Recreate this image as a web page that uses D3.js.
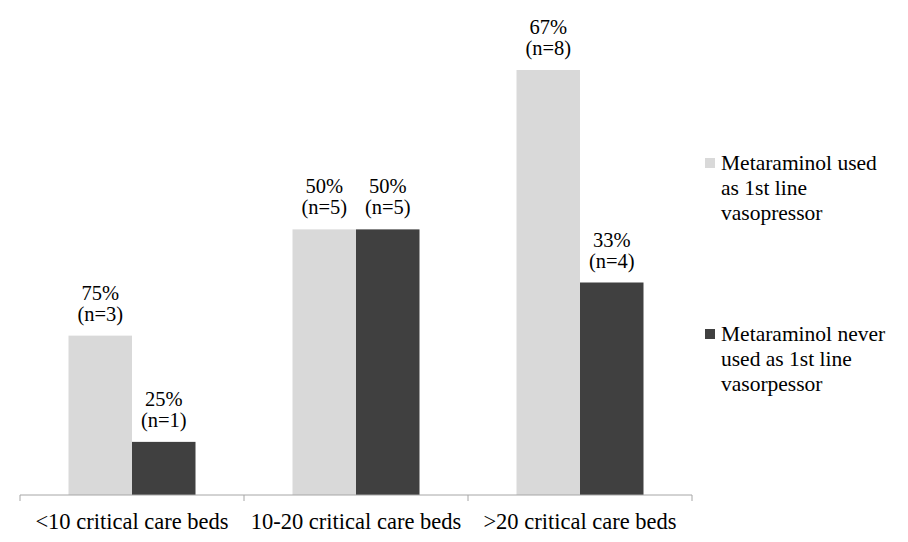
<!DOCTYPE html>
<html>
<head>
<meta charset="utf-8">
<script src="https://cdn.jsdelivr.net/npm/d3@7"></script>
<style>
  .serif { font-family: "Liberation Serif", serif; }
</style>
</head>
<body style="margin:0">
<svg id="chart" width="908" height="542"></svg>
<script>
// Chart data
const categories = ["<10 critical care beds", "10-20 critical care beds", ">20 critical care beds"];
const seriesNames = ["Metaraminol used as 1st line vasopressor", "Metaraminol never used as 1st line vasorpessor"];
const legendLines = [["Metaraminol used", "as 1st line", "vasopressor"],
                     ["Metaraminol never", "used as 1st line", "vasorpessor"]];
const usedCounts  = [3, 5, 8];
const neverCounts = [1, 5, 4];
const usedPct  = ["75%", "50%", "67%"];
const neverPct = ["25%", "50%", "33%"];
const colors = ["#d9d9d9", "#404040"];

let svg = d3.select("#chart");

// Build rows from the arrays
let rows = categories.map(function(c, i) {
  return {
    cat: c,
    vals: [
      {s: 0, n: usedCounts[i], pct: usedPct[i]},
      {s: 1, n: neverCounts[i], pct: neverPct[i]}
    ]
  };
});

let x0 = d3.scaleBand().domain(categories).range([20, 692]);
let x1 = d3.scaleBand().domain([0, 1]).range([0, 127]);
let y = d3.scaleLinear().domain([0, 8]).range([495, 70]);

// groups of bars
let grp = svg.selectAll(".grp")
  .data(rows)
  .enter().append("g")
    .attr("class", "grp")
    .attr("transform", function(d) {
      return "translate(" + (x0(d.cat) + (x0.bandwidth() - 127) / 2) + ",0)";
    });

grp.selectAll("rect")
  .data(function(d) { return d.vals; })
  .enter().append("rect")
    .attr("x", function(d) { return x1(d.s); })
    .attr("width", x1.bandwidth())
    .attr("y", function(d) { return y(d.n); })
    .attr("height", function(d) { return y(0) - y(d.n); })
    .attr("fill", function(d) { return colors[d.s]; });

// value labels (two lines)
let lbl = grp.selectAll(".lbl")
  .data(function(d) { return d.vals; })
  .enter().append("text")
    .attr("class", "lbl serif")
    .attr("font-family", "Liberation Serif")
    .attr("text-anchor", "middle")
    .attr("fill", "#000")
    .attr("font-size", 20.5);

lbl.append("tspan")
  .attr("x", function(d) { return x1(d.s) + x1.bandwidth() / 2; })
  .attr("y", function(d) { return y(d.n) - 36; })
  .text(function(d) { return d.pct; });

lbl.append("tspan")
  .attr("x", function(d) { return x1(d.s) + x1.bandwidth() / 2; })
  .attr("y", function(d) { return y(d.n) - 15; })
  .text(function(d) { return "(n=" + d.n + ")"; });

// x axis
let xAxis = svg.append("g")
  .attr("transform", "translate(0," + y(0) + ")");

xAxis.append("line")
  .attr("x1", 20).attr("x2", 692)
  .attr("stroke", "#a6a6a6").attr("stroke-width", 1);

let tickPos = categories.map(function(c) { return x0(c); }).concat([x0.range()[1]]);
xAxis.selectAll(".tick")
  .data(tickPos)
  .enter().append("line")
    .attr("class", "tick")
    .attr("x1", function(d) { return d; })
    .attr("x2", function(d) { return d; })
    .attr("y1", 0).attr("y2", 6)
    .attr("stroke", "#a6a6a6");

xAxis.selectAll(".cat")
  .data(categories)
  .enter().append("text")
    .attr("class", "cat serif")
    .attr("font-family", "Liberation Serif")
    .attr("x", function(d) { return x0(d) + x0.bandwidth() / 2; })
    .attr("y", 34)
    .attr("text-anchor", "middle")
    .attr("fill", "#000")
    .attr("font-size", 22.5)
    .text(function(d) { return d; });

// legend
let leg = svg.selectAll(".leg")
  .data(seriesNames)
  .enter().append("g")
    .attr("class", "leg")
    .attr("transform", function(d, i) { return "translate(705," + (158 + i * 171) + ")"; });

leg.append("rect")
  .attr("width", 10).attr("height", 10)
  .attr("fill", function(d, i) { return colors[i]; });

leg.append("text")
  .attr("class", "serif")
  .attr("font-family", "Liberation Serif")
  .attr("fill", "#000")
  .attr("font-size", 21.5)
  .selectAll("tspan")
  .data(function(d, i) { return legendLines[i]; })
  .enter().append("tspan")
    .attr("x", 16)
    .attr("y", function(d, j) { return 12 + j * 25; })
    .text(function(d) { return d; });
</script>
</body>
</html>
